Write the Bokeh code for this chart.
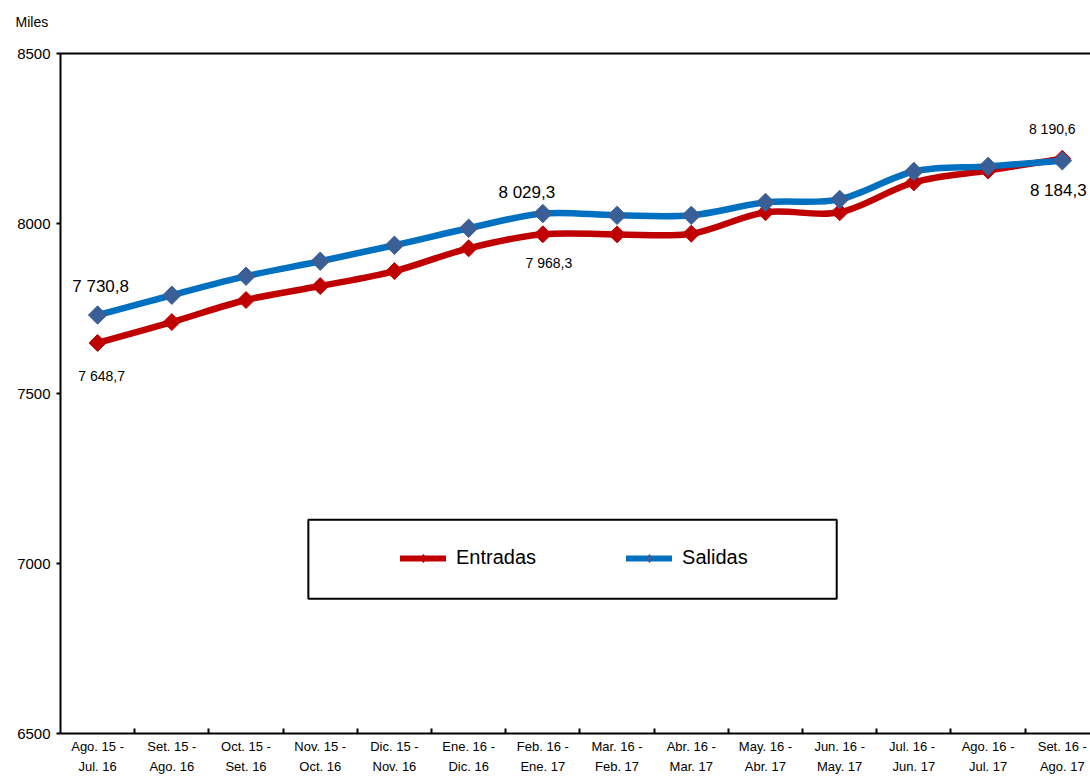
import math
from bokeh.plotting import figure
from bokeh.models import (Range1d, FixedTicker, LinearAxis, Legend, LegendItem,
                          BoxAnnotation, ColumnDataSource)
from bokeh.core.properties import value
from bokeh.embed import file_html
from bokeh.resources import INLINE

# ---------------- data ----------------
categories = ["Ago. 15 -\nJul. 16", "Set. 15 -\nAgo. 16", "Oct. 15 -\nSet. 16",
              "Nov. 15 -\nOct. 16", "Dic. 15 -\nNov. 16", "Ene. 16 -\nDic. 16",
              "Feb. 16 -\nEne. 17", "Mar. 16 -\nFeb. 17", "Abr. 16 -\nMar. 17",
              "May. 16 -\nAbr. 17", "Jun. 16 -\nMay. 17", "Jul.  16 -\nJun. 17",
              "Ago. 16 -\nJul. 17", "Set. 16 -\nAgo. 17"]
entradas = [7648.7, 7710, 7775, 7816, 7860, 7927, 7968.3, 7968, 7970, 8033, 8033, 8121, 8156, 8190.6]
salidas = [7730.8, 7789, 7845, 7889, 7936, 7986, 8029.3, 8024, 8024, 8062, 8071, 8153, 8168, 8184.3]
y_ticks = [6500, 7000, 7500, 8000, 8500]
labeled_idx = [0, 6, 13]
series_names = ["Entradas", "Salidas"]
unit_label = "Miles"

# ---------------- styles ----------------
RED = "#C00000"
BLUE = "#0070C0"
BLUE_MK = "#3A5F97"
FONT = "Liberation Sans"
ent_offsets = [(4, 33), (6, 29), (-10, -30)]
sal_offsets = [(3, -29), (-16, -21), (-4, 30)]

xs = list(range(len(categories)))
NAN = float("nan")


def fmt(v):
    return f"{v:,.1f}".replace(",", " ").replace(".", ",")


def smooth(xv, yv):
    n = len(xv)
    d = dict(x0=[], y0=[], x1=[], y1=[], cx0=[], cy0=[], cx1=[], cy1=[])
    for i in range(n - 1):
        a = max(i - 1, 0)
        b = min(i + 2, n - 1)
        d["x0"].append(xv[i]); d["y0"].append(yv[i])
        d["x1"].append(xv[i + 1]); d["y1"].append(yv[i + 1])
        d["cx0"].append(xv[i] + (xv[i + 1] - xv[a]) / 6)
        d["cy0"].append(yv[i] + (yv[i + 1] - yv[a]) / 6)
        d["cx1"].append(xv[i + 1] - (xv[b] - xv[i]) / 6)
        d["cy1"].append(yv[i + 1] - (yv[b] - yv[i]) / 6)
    return ColumnDataSource(d)


p = figure(width=1090, height=776, output_backend="svg", toolbar_location=None,
           x_range=Range1d(-0.5, 13.38), y_range=Range1d(6500, 8500),
           min_border_left=60, min_border_right=0, min_border_top=53, min_border_bottom=30,
           x_axis_location="below", y_axis_location="left",
           title=unit_label + "\n")
p.outline_line_color = None
p.xgrid.visible = False
p.ygrid.visible = False
p.background_fill_color = "white"

# unit label as title (top-left)
p.title.align = "left"
p.title.offset = -45
p.title.standoff = 16
p.title.text_font = FONT
p.title.text_font_size = "14px"
p.title.text_font_style = "normal"
p.title.text_color = "black"

# x axis
xa = p.xaxis[0]
xa.ticker = FixedTicker(ticks=xs, minor_ticks=[i + 0.5 for i in xs[:-1]])
xa.major_label_overrides = {i: c for i, c in zip(xs, categories)}
xa.major_tick_out = 0
xa.major_tick_in = 0
xa.minor_tick_in = 5
xa.minor_tick_out = 0
xa.minor_tick_line_width = 2
xa.minor_tick_line_color = "black"
xa.axis_line_width = 2
xa.axis_line_color = "black"
xa.major_label_text_font = FONT
xa.major_label_text_font_size = "13px"
xa.major_label_text_line_height = 1.35
xa.major_label_text_color = "black"
xa.major_label_standoff = 5

# y axis
ya = p.yaxis[0]
ya.ticker = FixedTicker(ticks=y_ticks)
ya.major_tick_out = 4
ya.major_tick_in = 0
ya.minor_tick_out = 0
ya.minor_tick_in = 0
ya.major_tick_line_width = 2
ya.axis_line_width = 2
ya.axis_line_color = "black"
ya.major_label_text_font = FONT
ya.major_label_text_font_size = "15px"
ya.major_label_text_color = "black"
ya.major_label_standoff = 6

# top border line
top = LinearAxis(ticker=FixedTicker(ticks=[]), major_label_text_font_size="0px",
                 axis_line_width=2, axis_line_color="black",
                 major_tick_out=0, major_tick_in=0, minor_tick_out=0, minor_tick_in=0)
p.add_layout(top, "above")

# series
for vals, line_col, mk_col, mk_size in [(entradas, RED, RED, 12), (salidas, BLUE, BLUE_MK, 13)]:
    src = smooth([float(x) for x in xs], vals)
    p.bezier("x0", "y0", "x1", "y1", "cx0", "cy0", "cx1", "cy1", source=src,
             line_color=line_col, line_width=6.5, line_cap="round")
    p.scatter(xs, vals, marker="square", angle=math.pi / 4, size=mk_size,
              fill_color=mk_col, line_color=mk_col)

# data labels
for vals, offs, size in [(entradas, ent_offsets, "14px"), (salidas, sal_offsets, "17px")]:
    lsrc = ColumnDataSource(dict(
        x=[xs[i] for i in labeled_idx],
        y=[vals[i] for i in labeled_idx],
        t=[fmt(vals[i]) for i in labeled_idx],
        dx=[o[0] for o in offs],
        dy=[o[1] for o in offs]))
    p.text("x", "y", text="t", x_offset="dx", y_offset="dy", source=lsrc,
           text_font=value(FONT), text_font_size=size, text_color="black",
           text_align="center", text_baseline="middle")

# legend box
box = BoxAnnotation(left=2.84, right=9.96, bottom=6896.5, top=7128.5,
                    fill_color="white", fill_alpha=1, line_color="black", line_alpha=1,
                    line_width=2, level="annotation")
p.add_layout(box)

leg_items = []
for name, line_col, mk_col in [(series_names[0], RED, RED), (series_names[1], BLUE, BLUE_MK)]:
    lr = p.line(x=[NAN], y=[NAN], line_color=line_col, line_width=6, line_cap="round")
    mr = p.scatter(x=[NAN], y=[NAN], marker="diamond", size=14,
                   fill_color=mk_col, line_color=mk_col)
    leg_items.append(LegendItem(label=name, renderers=[lr, mr]))

legend = Legend(items=leg_items, orientation="horizontal", location=(340, 164),
                border_line_color=None, background_fill_alpha=0,
                label_text_font=FONT, label_text_font_size="20px", label_text_color="black",
                glyph_width=46, glyph_height=20, label_standoff=10, spacing=90,
                padding=0, margin=0)
p.add_layout(legend)

open("out.html", "w").write(file_html(p, INLINE))
